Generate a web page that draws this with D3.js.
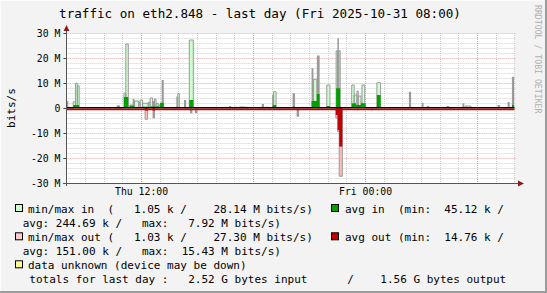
<!DOCTYPE html>
<html><head><meta charset="utf-8">
<script src="https://cdn.jsdelivr.net/npm/d3@7/dist/d3.min.js"></script>
<style>
body{margin:0;background:#f3f3f3;}
svg{display:block;}
text{font-family:"DejaVu Sans Mono",monospace;white-space:pre;}
</style>
</head><body><svg id="c" width="547" height="293"></svg>
<script>
// ---------- DATA (minutes since Thu 08:00, value in M bits/s) ----------
const title = "traffic on eth2.848 - last day (Fri 2025-10-31 08:00)";
const yTickValues = [-30, -20, -10, 0, 10, 20, 30];
const yTickLabels = ["-30 M", "-20 M", "-10 M", "0", "10 M", "20 M", "30 M"];
const xLabelMinutes = [240, 960];
const xLabels = ["Thu 12:00", "Fri 00:00"];

// min/max in band : [start, end, max]
const inMax = [
  [22, 29, 2.5], [29, 35, 9.9], [35, 41, 8.9],
  [185, 191, 6.0], [191, 199, 25.6],
  [204, 213, 1.2], [219, 232, 2.8], [232, 237, 2.3],
  [237, 245, 3.2], [245, 263, 1.9], [263, 269, 2.3], [269, 277, 4.0],
  [283, 288, 3.6], [288, 295, 1.9], [295, 301, 1.1], [301, 306, 1.5],
  [355, 358, 4.5], [358, 363, 5.8], [395, 408, 27.2],
  [663, 666, 5.2], [666, 674, 6.5],
  [794, 805, 11.5], [837, 847, 9.2],
  [867, 871, 22.9], [876, 880, 22.9],
  [917, 925, 9.2], [925, 934, 5.2], [934, 938, 6.8], [938, 947, 4.8],
  [947, 950, 2.1], [950, 959, 9.2], [998, 1010, 10.1], [1281, 1300, 0.8]
];
// grey max-in spikes : [start, end, max]
const inPeak = [
  [0, 6, 2.8], [162, 172, 1.1], [213, 219, 3.7], [277, 283, 2.8], [306, 313, 11.2],
  [378, 385, 3.2], [523, 530, 0.8], [540, 548, 0.5], [555, 575, 0.6], [580, 590, 0.5],
  [600, 606, 0.5], [628, 635, 1.6], [640, 650, 0.5], [727, 735, 5.9],
  [788, 794, 15.9], [805, 814, 21.0], [871, 876, 27.9],
  [1101, 1108, 6.5], [1142, 1148, 2.1], [1158, 1166, 0.8], [1222, 1230, 0.8],
  [1273, 1279, 1.9], [1386, 1394, 1.2], [1418, 1425, 2.4], [1432, 1439, 12.5]
];
// avg in : [start, end, avg]
const inAvg = [
  [22, 41, 1.2], [185, 199, 4.4], [204, 219, 0.9], [245, 263, 0.5],
  [269, 298, 0.6], [301, 313, 2.1], [395, 408, 3.2], [663, 674, 1.2],
  [727, 735, 0.5], [788, 805, 2.8], [805, 814, 5.6], [837, 847, 0.8],
  [867, 880, 7.9], [917, 931, 1.9], [931, 947, 1.2], [947, 962, 1.9],
  [998, 1010, 5.2], [1101, 1108, 0.3], [1432, 1439, 1.2]
];
// min/max out band : [start, end, max]
const outMax = [
  [253, 261, 4.5], [866, 872, 4.0], [872, 877, 9.5], [877, 887, 27.3]
];
// grey max-out spikes : [start, end, max]
const outPeak = [
  [277, 285, 4.1], [397, 405, 2.1], [413, 421, 2.1], [740, 748, 3.5],
  [934, 938, 1.0], [981, 986, 1.0]
];
// avg out : [start, end, avg]
const outAvg = [
  [253, 261, 1.0], [277, 285, 1.0], [866, 872, 2.8], [872, 877, 8.8], [877, 887, 15.4]
];

const legendRows = [
  {box: "#ccffcc", x: 28, text: "min/max in  (   1.05 k /    28.14 M bits/s)"},
  {box: null, x: 22.7, text: "avg: 244.69 k /   max:   7.92 M bits/s)"},
  {box: "#ffcccc", x: 28, text: "min/max out (   1.03 k /    27.30 M bits/s)"},
  {box: null, x: 22.7, text: "avg: 151.00 k /   max:  15.43 M bits/s)"},
  {box: "#ffff99", x: 28, text: "data unknown (device may be down)"},
  {box: null, x: 29.3, text: "totals for last day :   2.52 G bytes input      /    1.56 G bytes output"}
];
const legendRight = [
  {row: 0, box: "#00a000", text: "avg in  (min:  45.12 k /"},
  {row: 2, box: "#c00000", text: "avg out (min:  14.76 k /"}
];

// ---------- DRAW ----------
const svg = d3.select("#c");
const W = 547, H = 293;
const x0 = 66.4, x1 = 514.4, yTop = 33, yBot = 183;
const x = d3.scaleLinear().domain([0, 1440]).range([x0, x1]);
const y = d3.scaleLinear().domain([-30, 30]).range([yBot, yTop]);

svg.append("rect").attr("width", W).attr("height", H).attr("fill", "#f3f3f3");
svg.append("path").attr("d", `M0,${H} V0 H${W}`).attr("stroke", "#fcfcfc").attr("stroke-width", 2).attr("fill", "none");
svg.append("path").attr("d", `M0,${H-1} H${W-1} V0`).attr("stroke", "#9c9c9c").attr("stroke-width", 2).attr("fill", "none");

svg.append("rect").attr("x", x0).attr("y", yTop).attr("width", x1 - x0).attr("height", yBot - yTop).attr("fill", "#ffffff");

// grid
const g = svg.append("g");
const minorY = d3.range(-30, 31, 2).filter(v => v % 10 !== 0);
g.selectAll(".hm").data(minorY).join("line")
  .attr("x1", x0).attr("x2", x1 + 2).attr("y1", d => Math.round(y(d)) + 0.5).attr("y2", d => Math.round(y(d)) + 0.5)
  .attr("stroke", "#d0d0d0").attr("stroke-dasharray", "1,1");
const hours = d3.range(60, 1441, 60);
g.selectAll(".vm").data(hours.filter(m => ((m / 60 + 8) % 6) !== 0)).join("line")
  .attr("y1", yTop).attr("y2", yBot).attr("x1", d => Math.round(x(d)) + 0.5).attr("x2", d => Math.round(x(d)) + 0.5)
  .attr("stroke", "#d0d0d0").attr("stroke-dasharray", "1,1");
g.selectAll(".hM").data(yTickValues).join("line")
  .attr("x1", x0).attr("x2", x1 + 2).attr("y1", d => Math.round(y(d)) + 0.5).attr("y2", d => Math.round(y(d)) + 0.5)
  .attr("stroke", "#e8a8a8").attr("stroke-dasharray", "1,1");
g.selectAll(".vM").data(hours.filter(m => ((m / 60 + 8) % 6) === 0)).join("line")
  .attr("y1", yTop).attr("y2", yBot).attr("x1", d => Math.round(x(d)) + 0.5).attr("x2", d => Math.round(x(d)) + 0.5)
  .attr("stroke", "#e8a8a8").attr("stroke-dasharray", "1,1");

// series
function pts(segs, sign) {
  const p = [{t: 0, v: 0}];
  segs.slice().sort((a, b) => a[0] - b[0]).forEach(s => { p.push({t: s[0], v: sign * s[2]}); p.push({t: s[1], v: 0}); });
  p.push({t: 1440, v: 0});
  return p;
}
const area = d3.area().x(d => x(d.t)).y0(y(0)).y1(d => y(d.v)).curve(d3.curveStepAfter);
const line = d3.line().x(d => x(d.t)).y(d => y(d.v)).curve(d3.curveStepAfter);
const grey = "#9a9a9a";

svg.append("path").attr("d", area(pts(inMax, 1))).attr("fill", "#ccffcc");
svg.append("path").attr("d", line(pts(inMax, 1))).attr("fill", "none").attr("stroke", grey).attr("stroke-width", 1);
svg.append("path").attr("d", area(pts(inPeak, 1))).attr("fill", grey);
svg.append("path").attr("d", area(pts(inAvg, 1))).attr("fill", "#00a000");
svg.append("path").attr("d", area(pts(outMax, -1))).attr("fill", "#ffbbbb");
svg.append("path").attr("d", line(pts(outMax, -1))).attr("fill", "none").attr("stroke", grey).attr("stroke-width", 1);
svg.append("path").attr("d", area(pts(outPeak, -1))).attr("fill", grey);
svg.append("path").attr("d", area(pts(outAvg, -1))).attr("fill", "#c00000");

// zero lines
svg.append("line").attr("x1", x0).attr("x2", x1).attr("y1", 107.6).attr("y2", 107.6).attr("stroke", "#000").attr("stroke-width", 1.4);
svg.append("line").attr("x1", x0).attr("x2", x1).attr("y1", 109.4).attr("y2", 109.4).attr("stroke", "#c00000").attr("stroke-width", 1.6);

// axes
const yAxis = d3.axisLeft(y).tickValues(yTickValues).tickFormat((d, i) => yTickLabels[i]).tickSize(3).tickPadding(3);
const ya = svg.append("g").attr("transform", `translate(${x0},0)`).call(yAxis);
ya.select(".domain").remove();
ya.selectAll("line").attr("stroke", "#444");
ya.selectAll("text").attr("font-family", "DejaVu Sans Mono").attr("font-size", "9.8px").attr("fill", "#000");

const xAxis = d3.axisBottom(x).tickValues(xLabelMinutes).tickFormat((d, i) => xLabels[i]).tickSize(0).tickPadding(5);
const xa = svg.append("g").attr("transform", `translate(0,${yBot})`).call(xAxis);
xa.select(".domain").remove();
xa.selectAll("text").attr("font-family", "DejaVu Sans Mono").attr("font-size", "9.8px").attr("fill", "#000");

svg.append("line").attr("x1", x0 + 0.1).attr("x2", x0 + 0.1).attr("y1", 186).attr("y2", 30).attr("stroke", "#555");
svg.append("line").attr("x1", 63).attr("x2", 519).attr("y1", yBot + 0.5).attr("y2", yBot + 0.5).attr("stroke", "#555");
svg.append("path").attr("d", `M${x0-2.8},31 L${x0+0.1},25 L${x0+3},31 Z`).attr("fill", "#8b1a1a");
svg.append("path").attr("d", `M518,${yBot-2.5} L524,${yBot+0.5} L518,${yBot+3.5} Z`).attr("fill", "#8b1a1a");

svg.append("text").attr("x", 260).attr("y", 18).attr("text-anchor", "middle").attr("font-size", "12.6px").attr("fill", "#000").text(title);
svg.append("text").attr("transform", "translate(15,108) rotate(-90)").attr("text-anchor", "middle").attr("font-size", "11px").attr("fill", "#000").text("bits/s");
svg.append("text").attr("transform", "translate(535,5) rotate(90)").attr("font-size", "8.2px").attr("fill", "#b0b0b0").text("RRDTOOL / TOBI OETIKER");

// legend
const rowY = [213, 226.7, 241.3, 254.7, 269.3, 283];
legendRows.forEach((r, i) => {
  if (r.box) svg.append("rect").attr("x", 15.5).attr("y", rowY[i] - 8.5).attr("width", 7).attr("height", 7).attr("fill", r.box).attr("stroke", "#000").attr("stroke-width", 1);
  svg.append("text").attr("x", r.x).attr("y", rowY[i]).attr("font-size", "11px").attr("fill", "#000").text(r.text);
});
legendRight.forEach(r => {
  svg.append("rect").attr("x", 331.5).attr("y", rowY[r.row] - 8.5).attr("width", 7).attr("height", 7).attr("fill", r.box).attr("stroke", "#000").attr("stroke-width", 1);
  svg.append("text").attr("x", 345).attr("y", rowY[r.row]).attr("font-size", "11px").attr("fill", "#000").text(r.text);
});
</script></body></html>
